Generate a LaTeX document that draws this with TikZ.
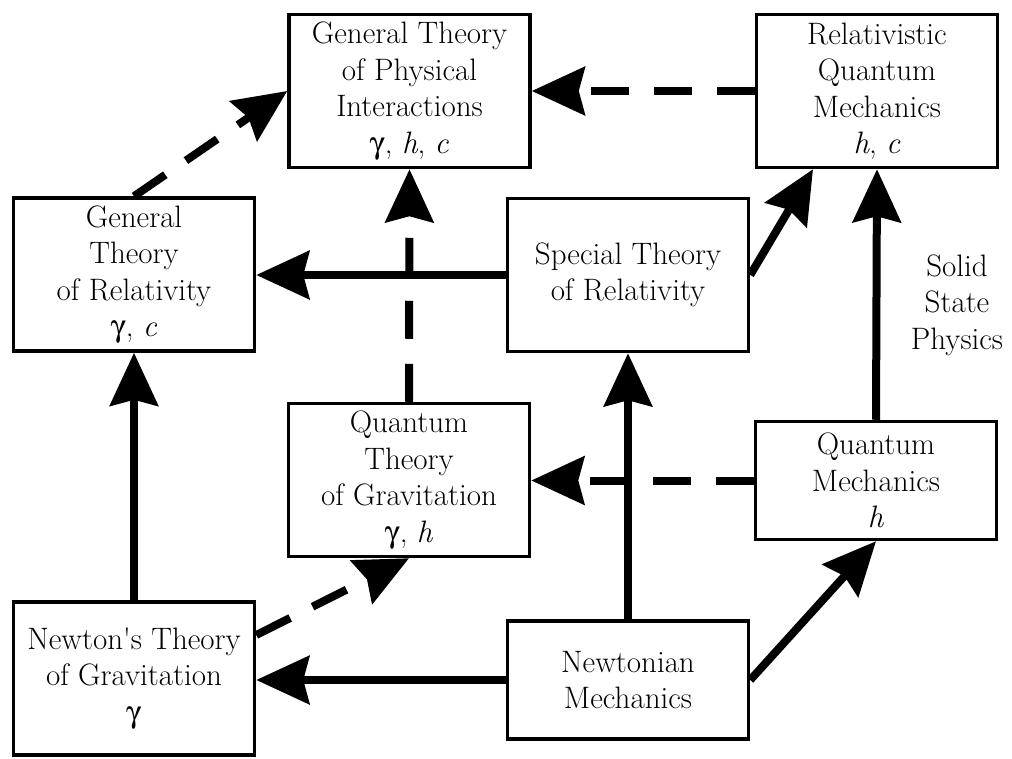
\documentclass[tikz,border=0pt]{standalone}
\usepackage[Symbol]{upgreek}
\usepackage{fontspec}
\newcommand\tnr{\rmfamily}
\newcommand\gam{$\upgamma$}
\newcommand\fsz{\fontsize{31}{36.5}\selectfont}
\usetikzlibrary{arrows.meta,calc}
\begin{document}
\begin{tikzpicture}[x=1pt,y=-1pt,
  box/.style={draw,line width=3.5pt,minimum width=241pt,inner sep=0pt,align=center,font=\tnr\fsz},
  tall/.style={box,minimum height=153pt},
  short/.style={box,minimum height=118pt},
  conn/.style={line width=8pt,-{Stealth[length=53pt,width=48pt,inset=6pt]}},
  dconn/.style={conn,dash pattern=on 38pt off 25pt},
  lbl/.style={align=center,inner sep=0pt,font=\tnr\fsz}]
\useasboundingbox (0,0) rectangle (1012,758);
\fill[white] (0,0) rectangle (1012,758);

\node[tall]  (GTPI) at (409.5,91)  {General Theory\\of Physical\\Interactions\\\gam, \textit{h}, \textit{c}};
\node[tall]  (RQM)  at (877,91)    {Relativistic\\Quantum\\Mechanics\\\textit{h}, \textit{c}};
\node[tall]  (GTR)  at (134,274.5) {General\\Theory\\of Relativity\\\gam, \textit{c}};
\node[tall]  (STR)  at (628,275)   {Special Theory\\of Relativity};
\node[tall]  (QTG)  at (409,480)   {Quantum\\Theory\\of Gravitation\\\gam, \textit{h}};
\node[short] (QM)   at (876,480.5) {Quantum\\Mechanics\\\textit{h}};
\node[tall]  (NTG)  at (134,678.5) {Newton\textquotesingle s Theory\\of Gravitation\\\gam};
\node[short] (NM)   at (628,680)   {Newtonian\\Mechanics};
\node[lbl]   (SSP)  at (957,305)   {Solid\\State\\Physics};

\draw[conn] (NM.west) -- (NM.west -| NTG.east);
\draw[conn] (NTG.north) -- (GTR.south);
\draw[conn] (NM.north) -- (STR.south);
\draw[conn] (STR.west) -- (STR.west -| GTR.east);
\draw[conn] (NM.east) -- (QM.south);
\draw[conn] (QM.north) -- (RQM.south);
\draw[conn] (STR.east) -- ([xshift=-64pt]RQM.south);

\draw[dconn] (QM.west) -- (QM.west -| QTG.east);
\draw[dconn] (QTG.north) -- (GTPI.south);
\draw[dconn] (RQM.west) -- (GTPI.east);
\draw[dconn] (GTR.north) -- (GTPI.west);
\draw[dconn] ([yshift=43.5pt]NTG.east) -- (QTG.south);
\end{tikzpicture}
\end{document}
